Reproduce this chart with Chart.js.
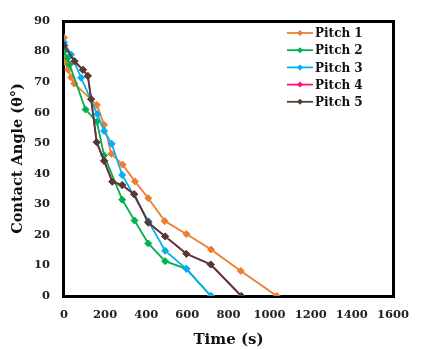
<!DOCTYPE html>
<html>
<head>
<meta charset="utf-8">
<script src="https://cdn.jsdelivr.net/npm/chart.js@4.4.1/dist/chart.umd.min.js"></script>
<style>
  html, body { margin: 0; padding: 0; background: #fff; }
  #wrap { width: 421px; height: 349px; }
</style>
</head>
<body>
<div id="wrap"><canvas id="graphCanvas" width="421" height="349"></canvas></div>
<script>
// values (time in s, contact angle in degrees)
var seriesNames = ['Pitch 1', 'Pitch 2', 'Pitch 3', 'Pitch 4', 'Pitch 5'];

var time1 = [0, 5, 20, 35, 50, 160, 195, 230, 285, 345, 410, 490, 595, 715, 860, 1035];
var angle1 = [84.5, 76.5, 74, 71.5, 69.5, 62.5, 56, 46.5, 43, 37.5, 32, 24.5, 20.3, 15.2, 8.2, 0];

var time2 = [0, 18, 27, 105, 160, 195, 283, 343, 410, 492, 595, 715];
var angle2 = [80, 77.8, 75.7, 61, 57, 46, 31.5, 24.7, 17.2, 11.4, 8.9, 0];

var time3 = [0, 35, 83, 162, 195, 232, 283, 410, 492, 595, 714];
var angle3 = [83, 79, 71.4, 59.5, 54, 49.8, 39.6, 24.5, 14.8, 8.9, 0];

var time4 = [0, 51, 92, 116, 132, 159, 195, 235, 283, 341, 410, 492, 595, 714, 862];
var angle4 = [82, 76.8, 74, 72, 64.4, 50.3, 44.2, 37.4, 36.3, 33.3, 24, 19.5, 13.8, 10.3, 0];

var time5 = [0, 51, 92, 116, 132, 159, 195, 235, 283, 341, 410, 492, 595, 714, 862];
var angle5 = [82, 76.8, 74, 72, 64.4, 50.3, 44.2, 37.4, 36.3, 33.3, 24, 19.5, 13.8, 10.3, 0];

var xTicks = [0, 200, 400, 600, 800, 1000, 1200, 1400, 1600];
var yTicks = [0, 10, 20, 30, 40, 50, 60, 70, 80, 90];

var colors = ['#ED7D31', '#00B050', '#00B0F0', '#FF0F80', '#4F3F33'];

function toPoints(xs, ys) {
  var pts = [];
  for (var i = 0; i < xs.length; i++) {
    pts.push({ x: xs[i], y: ys[i] });
  }
  return pts;
}

var allTimes = [time1, time2, time3, time4, time5];
var allAngles = [angle1, angle2, angle3, angle4, angle5];

var datasets = [];
for (var i = 0; i < seriesNames.length; i++) {
  datasets.push({
    label: seriesNames[i],
    data: toPoints(allTimes[i], allAngles[i]),
    borderColor: colors[i],
    backgroundColor: colors[i],
    borderWidth: 1.8,
    pointStyle: 'rectRot',
    pointRadius: 3.5,
    pointBorderWidth: 1,
    fill: false,
    tension: 0,
    order: seriesNames.length - i   // last series on top, like the spreadsheet
  });
}

var serif = '"DejaVu Serif", serif';

// black frame round the plot, drawn under the lines
var frame = {
  id: 'plotFrame',
  beforeDatasetsDraw: function (chart) {
    var a = chart.chartArea;
    var ctx = chart.ctx;
    var l = Math.round(a.left), r = Math.round(a.right);
    var t = Math.round(a.top), b = Math.round(a.bottom);
    ctx.save();
    ctx.fillStyle = '#000000';
    ctx.fillRect(l - 1, t - 1, r - l + 3, 3);   // top
    ctx.fillRect(r - 1, t - 1, 3, b - t + 3);   // right
    ctx.fillRect(l - 2, t - 1, 3, b - t + 3);   // left
    ctx.fillRect(l - 2, b - 1, r - l + 4, 3);   // bottom
    ctx.restore();
  }
};

// legend sitting inside the plot, top right
var insideLegend = {
  id: 'insideLegend',
  afterDraw: function (chart) {
    var ctx = chart.ctx;
    ctx.save();
    ctx.font = 'bold 12px ' + serif;
    ctx.textBaseline = 'middle';
    ctx.textAlign = 'left';
    for (var i = 0; i < seriesNames.length; i++) {
      var y = 33 + i * 17.2;
      ctx.strokeStyle = colors[i];
      ctx.fillStyle = colors[i];
      ctx.lineWidth = 1.8;
      ctx.beginPath();
      ctx.moveTo(287, y);
      ctx.lineTo(313, y);
      ctx.stroke();
      ctx.beginPath();
      ctx.moveTo(300, y - 3);
      ctx.lineTo(303, y);
      ctx.lineTo(300, y + 3);
      ctx.lineTo(297, y);
      ctx.closePath();
      ctx.fill();
      ctx.fillStyle = '#111';
      ctx.fillText(seriesNames[i], 315, y + 1);
    }
    ctx.restore();
  }
};

var graphTarget = document.getElementById('graphCanvas');
window.bar = new Chart(graphTarget, {
  type: 'line',
  data: { datasets: datasets },
  plugins: [frame, insideLegend],
  options: {
    responsive: false,
    animation: false,
    layout: { padding: { left: 0, right: 10, top: 17, bottom: 0 } },
    plugins: {
      legend: { display: false },
      tooltip: { enabled: false }
    },
    scales: {
      x: {
        type: 'linear',
        min: 0,
        max: 1600,
        afterBuildTicks: function (scale) {
          scale.ticks = xTicks.map(function (v) { return { value: v }; });
        },
        afterFit: function (scale) { scale.height = 53; },
        grid: { display: false, drawTicks: false },
        border: { display: false },
        ticks: {
          padding: 12,
          color: '#222',
          maxRotation: 0,
          autoSkip: false,
          callback: function (v) { return String(v); },
          font: { family: serif, size: 11.5, weight: 'bold' }
        },
        title: {
          display: true,
          text: 'Time (s)',
          color: '#111',
          padding: { top: 0, bottom: 0 },
          font: { family: serif, size: 15, weight: 'bold' }
        }
      },
      y: {
        min: 0,
        max: 90,
        afterBuildTicks: function (scale) {
          scale.ticks = yTicks.map(function (v) { return { value: v }; });
        },
        afterFit: function (scale) { scale.width = 64; },
        grid: { display: false, drawTicks: false },
        border: { display: false },
        ticks: {
          padding: 14,
          color: '#222',
          autoSkip: false,
          callback: function (v) { return String(v); },
          font: { family: serif, size: 11.5, weight: 'bold' }
        },
        title: {
          display: true,
          text: 'Contact Angle (θ°)',
          color: '#111',
          padding: { top: 10, bottom: 0 },
          font: { family: serif, size: 14.5, weight: 'bold' }
        }
      }
    }
  }
});
</script>
</body>
</html>
